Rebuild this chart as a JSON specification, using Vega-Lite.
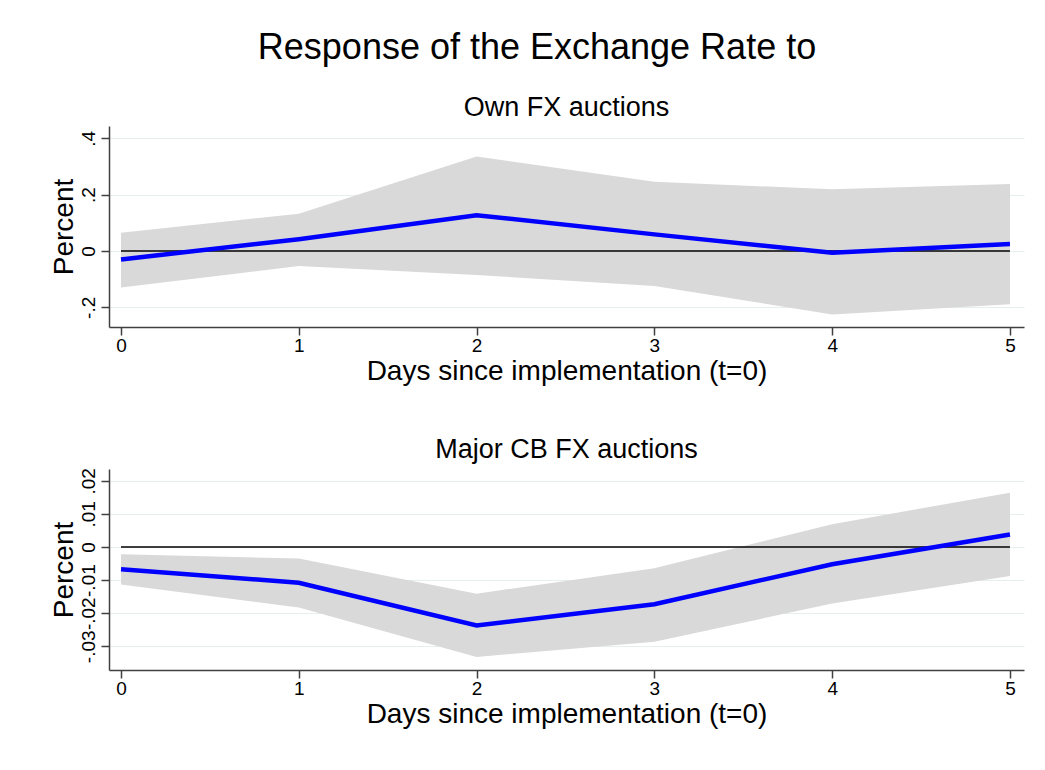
{
  "$schema": "https://vega.github.io/schema/vega-lite/v6.json",
  "padding": {"left": 50, "top": 30, "right": 5, "bottom": 5},
  "background": "white",
  "config": {
    "font": "Liberation Sans",
    "view": {"stroke": null},
    "axis": {
      "domainColor": "#404040",
      "domainWidth": 1.5,
      "tickColor": "#404040",
      "tickWidth": 1.5,
      "tickSize": 8,
      "labelColor": "black",
      "titleColor": "black",
      "labelFontSize": 19,
      "titleFontSize": 28,
      "titleFontWeight": "normal",
      "gridColor": "#e6eeee",
      "gridWidth": 1.2
    },
    "title": {"color": "black", "fontWeight": "normal"}
  },
  "title": {"text": "Response of the Exchange Rate to", "fontSize": 36, "anchor": "middle", "offset": 27},
  "datasets": {
    "own": [
      {"t": 0, "est": -0.030, "lo": -0.130, "hi": 0.065},
      {"t": 1, "est": 0.042, "lo": -0.053, "hi": 0.132},
      {"t": 2, "est": 0.127, "lo": -0.085, "hi": 0.335},
      {"t": 3, "est": 0.059, "lo": -0.124, "hi": 0.246},
      {"t": 4, "est": -0.006, "lo": -0.225, "hi": 0.219},
      {"t": 5, "est": 0.025, "lo": -0.189, "hi": 0.238}
    ],
    "major": [
      {"t": 0, "est": -0.0067, "lo": -0.0113, "hi": -0.0022},
      {"t": 1, "est": -0.0108, "lo": -0.0183, "hi": -0.0035},
      {"t": 2, "est": -0.0237, "lo": -0.0332, "hi": -0.0141},
      {"t": 3, "est": -0.0173, "lo": -0.0286, "hi": -0.0064},
      {"t": 4, "est": -0.0052, "lo": -0.0171, "hi": 0.0069},
      {"t": 5, "est": 0.0038, "lo": -0.0088, "hi": 0.0164}
    ]
  },
  "bounds": "flush",
  "spacing": 142,
  "vconcat": [
    {
      "title": {"text": "Own FX auctions", "fontSize": 27, "offset": 4},
      "width": 915,
      "height": 201,
      "data": {"name": "own"},
      "encoding": {
        "x": {"field": "t", "type": "quantitative",
              "scale": {"domain": [-0.0675, 5.079], "nice": false, "zero": false},
              "axis": {"values": [0, 1, 2, 3, 4, 5], "grid": false, "title": "Days since implementation (t=0)", "labelFontSize": 19, "labelPadding": 1, "titlePadding": 2}}
      },
      "layer": [
        {
          "mark": {"type": "area", "color": "#d9d9d9", "opacity": 1},
          "encoding": {
            "y": {"field": "lo", "type": "quantitative",
                  "scale": {"domain": [-0.2698, 0.4437], "nice": false, "zero": false},
                  "axis": {"values": [-0.2, 0, 0.2, 0.4], "title": "Percent", "labelAngle": -90,
                           "labelExpr": "replace(replace(format(datum.value, '.2~f'), '\u2212', '-'), '0.', '.')",
                           "labelPadding": 3, "titlePadding": 1}},
            "y2": {"field": "hi"}
          }
        },
        {
          "mark": {"type": "rule", "color": "black", "strokeWidth": 1.5},
          "encoding": {
            "x": {"aggregate": "min", "field": "t"},
            "x2": {"aggregate": "max", "field": "t"},
            "y": {"datum": 0}
          }
        },
        {
          "mark": {"type": "line", "color": "#0000ff", "strokeWidth": 4.5},
          "encoding": {"y": {"field": "est", "type": "quantitative"}}
        }
      ]
    },
    {
      "title": {"text": "Major CB FX auctions", "fontSize": 27, "offset": 4},
      "width": 915,
      "height": 201,
      "data": {"name": "major"},
      "encoding": {
        "x": {"field": "t", "type": "quantitative",
              "scale": {"domain": [-0.0675, 5.079], "nice": false, "zero": false},
              "axis": {"values": [0, 1, 2, 3, 4, 5], "grid": false, "title": "Days since implementation (t=0)", "labelFontSize": 19, "labelPadding": 1, "titlePadding": 2}}
      },
      "layer": [
        {
          "mark": {"type": "area", "color": "#d9d9d9", "opacity": 1},
          "encoding": {
            "y": {"field": "lo", "type": "quantitative",
                  "scale": {"domain": [-0.03716, 0.02356], "nice": false, "zero": false},
                  "axis": {"values": [-0.03, -0.02, -0.01, 0, 0.01, 0.02], "title": "Percent", "labelAngle": -90,
                           "labelExpr": "replace(replace(format(datum.value, '.2~f'), '\u2212', '-'), '0.', '.')",
                           "labelPadding": 3, "titlePadding": 1}},
            "y2": {"field": "hi"}
          }
        },
        {
          "mark": {"type": "rule", "color": "black", "strokeWidth": 1.5},
          "encoding": {
            "x": {"aggregate": "min", "field": "t"},
            "x2": {"aggregate": "max", "field": "t"},
            "y": {"datum": 0}
          }
        },
        {
          "mark": {"type": "line", "color": "#0000ff", "strokeWidth": 4.5},
          "encoding": {"y": {"field": "est", "type": "quantitative"}}
        }
      ]
    }
  ]
}
